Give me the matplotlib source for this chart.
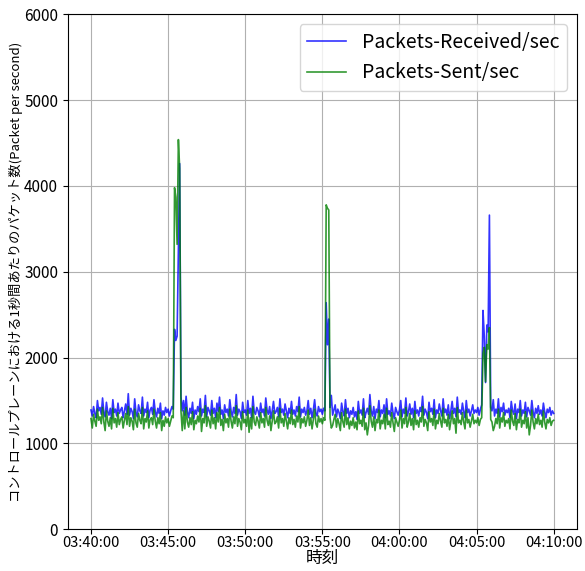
import matplotlib
matplotlib.use('Agg')
import matplotlib.pyplot as plt
import matplotlib.dates as mdates
import pandas as pd

plt.rcParams['font.family'] = ['Noto Sans CJK JP', 'DejaVu Sans']

# 5 second samples from 03:40:00 to 04:10:00, one row per minute
received = [
    1390, 1320, 1430, 1350, 1300, 1500, 1380, 1420, 1340, 1530, 1360, 1310,
    1480, 1370, 1330, 1410, 1290, 1510, 1360, 1400, 1320, 1470, 1350, 1390,
    1420, 1300, 1380, 1460, 1340, 1580, 1330, 1410, 1370, 1290, 1520, 1360,
    1310, 1450, 1380, 1350, 1540, 1320, 1400, 1360, 1480, 1300, 1390, 1420,
    1340, 1510, 1370, 1310, 1410, 1350, 1470, 1290, 1380, 1330, 1420, 1360,
    1400, 1320, 1380, 1430, 1400, 2330, 2200, 2250, 3300, 4260, 1550, 1380,
    1500, 1330, 1550, 1370, 1300, 1410, 1350, 1480, 1290, 1390, 1340, 1430,
    1370, 1520, 1320, 1400, 1360, 1560, 1310, 1420, 1380, 1330, 1500, 1350,
    1410, 1300, 1470, 1370, 1540, 1340, 1390, 1290, 1450, 1360, 1400, 1320,
    1510, 1380, 1310, 1420, 1350, 1570, 1330, 1400, 1370, 1290, 1480, 1360,
    1390, 1330, 1500, 1350, 1410, 1300, 1550, 1370, 1340, 1420, 1380, 1310,
    1470, 1360, 1400, 1320, 1530, 1390, 1340, 1430, 1290, 1380, 1490, 1350,
    1370, 1420, 1310, 1520, 1360, 1400, 1330, 1460, 1380, 1300, 1410, 1350,
    1490, 1340, 1390, 1320, 1430, 1370, 1540, 1310, 1400, 1360, 1420, 1330,
    1380, 1500, 1340, 1410, 1300, 1390, 1510, 1350, 1320, 1430, 1370, 1400,
    1340, 1410, 1380, 2640, 2150, 2450, 1420, 1560, 1330, 1390, 1450, 1310,
    1400, 1360, 1290, 1470, 1370, 1320, 1510, 1350, 1410, 1300, 1380, 1340,
    1420, 1310, 1370, 1280, 1490, 1350, 1390, 1330, 1520, 1300, 1360, 1410,
    1340, 1570, 1380, 1320, 1430, 1290, 1400, 1360, 1500, 1310, 1390, 1350,
    1450, 1300, 1520, 1340, 1380, 1320, 1470, 1360, 1290, 1420, 1370, 1330,
    1390, 1500, 1310, 1400, 1350, 1530, 1320, 1370, 1460, 1340, 1410, 1300,
    1490, 1350, 1390, 1320, 1420, 1370, 1550, 1330, 1400, 1360, 1290, 1480,
    1370, 1410, 1340, 1510, 1300, 1390, 1350, 1460, 1380, 1320, 1520, 1360,
    1400, 1330, 1450, 1290, 1380, 1490, 1350, 1410, 1310, 1540, 1360, 1390,
    1340, 1470, 1370, 1300, 1500, 1360, 1400, 1320, 1380, 1450, 1350, 1390,
    1360, 1420, 1330, 1400, 1450, 2550, 2250, 1710, 2380, 2300, 3660, 1420,
    1380, 1510, 1320, 1400, 1350, 1520, 1310, 1420, 1370, 1470, 1330, 1390,
    1360, 1410, 1300, 1490, 1380, 1340, 1460, 1290, 1400, 1360, 1500, 1320,
    1390, 1350, 1480, 1310, 1420, 1380, 1330, 1500, 1370, 1300, 1410, 1350,
    1440, 1340, 1390, 1320, 1470, 1370, 1300, 1400, 1360, 1420, 1330, 1380,
    1350,
]

sent = [
    1290, 1180, 1340, 1260, 1200, 1400, 1270, 1310, 1230, 1420, 1250, 1150,
    1380, 1260, 1200, 1300, 1170, 1410, 1240, 1290, 1190, 1360, 1220, 1280,
    1310, 1180, 1270, 1350, 1220, 1430, 1200, 1300, 1260, 1160, 1400, 1240,
    1190, 1350, 1270, 1230, 1420, 1170, 1290, 1250, 1380, 1180, 1280, 1300,
    1220, 1400, 1260, 1180, 1300, 1230, 1360, 1150, 1270, 1200, 1310, 1240,
    1290, 1200, 1260, 1320, 1300, 3980, 3870, 3320, 4540, 4200, 1380, 1150,
    1380, 1170, 1420, 1250, 1190, 1300, 1220, 1370, 1160, 1270, 1230, 1320,
    1250, 1410, 1140, 1290, 1240, 1440, 1200, 1310, 1260, 1180, 1390, 1230,
    1300, 1170, 1360, 1250, 1420, 1210, 1280, 1150, 1340, 1240, 1290, 1190,
    1400, 1260, 1180, 1310, 1230, 1440, 1200, 1290, 1250, 1160, 1370, 1240,
    1280, 1200, 1390, 1130, 1300, 1170, 1430, 1250, 1210, 1310, 1260, 1180,
    1360, 1240, 1290, 1190, 1420, 1270, 1210, 1320, 1150, 1260, 1380, 1230,
    1250, 1310, 1180, 1410, 1240, 1290, 1200, 1350, 1260, 1170, 1300, 1230,
    1390, 1220, 1280, 1190, 1320, 1250, 1430, 1180, 1290, 1240, 1310, 1200,
    1270, 1390, 1210, 1300, 1170, 1280, 1400, 1230, 1190, 1320, 1250, 1290,
    1230, 1300, 1270, 3780, 3740, 3720, 1300, 1180, 1210, 1280, 1340, 1190,
    1290, 1230, 1150, 1360, 1250, 1190, 1400, 1220, 1300, 1170, 1260, 1210,
    1300, 1180, 1250, 1160, 1380, 1230, 1270, 1200, 1410, 1160, 1240, 1100,
    1210, 1440, 1260, 1190, 1310, 1150, 1280, 1240, 1390, 1170, 1270, 1230,
    1340, 1170, 1410, 1220, 1260, 1190, 1360, 1240, 1140, 1300, 1250, 1200,
    1270, 1390, 1180, 1290, 1230, 1420, 1190, 1250, 1350, 1210, 1290, 1160,
    1380, 1220, 1270, 1190, 1300, 1250, 1430, 1200, 1280, 1240, 1150, 1370,
    1250, 1290, 1210, 1400, 1170, 1270, 1230, 1350, 1260, 1190, 1410, 1240,
    1280, 1200, 1340, 1160, 1260, 1380, 1230, 1290, 1120, 1420, 1240, 1270,
    1220, 1360, 1250, 1170, 1390, 1240, 1280, 1190, 1260, 1340, 1230, 1270,
    1240, 1300, 1210, 1280, 1300, 2050, 2120, 1720, 2150, 2100, 2350, 1280,
    1250, 1150, 1200, 1290, 1230, 1400, 1180, 1300, 1250, 1360, 1200, 1270,
    1240, 1290, 1170, 1390, 1260, 1210, 1350, 1160, 1280, 1240, 1400, 1190,
    1270, 1230, 1370, 1180, 1300, 1100, 1210, 1390, 1250, 1170, 1290, 1230,
    1340, 1220, 1270, 1190, 1380, 1250, 1170, 1280, 1240, 1300, 1210, 1260,
    1270,
]

times = pd.date_range('2021-01-01 03:40:00', periods=len(received), freq='5s')

fig, ax = plt.subplots(figsize=(5.85, 5.71), dpi=100)
fig.subplots_adjust(left=0.116, right=0.986, bottom=0.073, top=0.975)

ax.plot(times, received, color='blue', alpha=0.8, lw=1.2, label='Packets-Received/sec')
ax.plot(times, sent, color='green', alpha=0.8, lw=1.2, label='Packets-Sent/sec')

ax.set_ylim(0, 6000)
ax.xaxis.set_major_locator(mdates.MinuteLocator(byminute=range(0, 60, 5)))
ax.xaxis.set_major_formatter(mdates.DateFormatter('%H:%M:%S'))
ax.tick_params(labelsize=11)
ax.tick_params(axis='x', labelsize=10.5, pad=1.5)
ax.grid(True, color='#b0b0b0', lw=0.8)

ax.set_xlabel('時刻', fontsize=12, labelpad=0)
ax.set_ylabel('コントロールプレーンにおける1秒間あたりのパケット数(Packet per second)',
              fontsize=9.5, labelpad=1)
ax.legend(loc='upper right', fontsize=14)

fig.savefig('out.png')
